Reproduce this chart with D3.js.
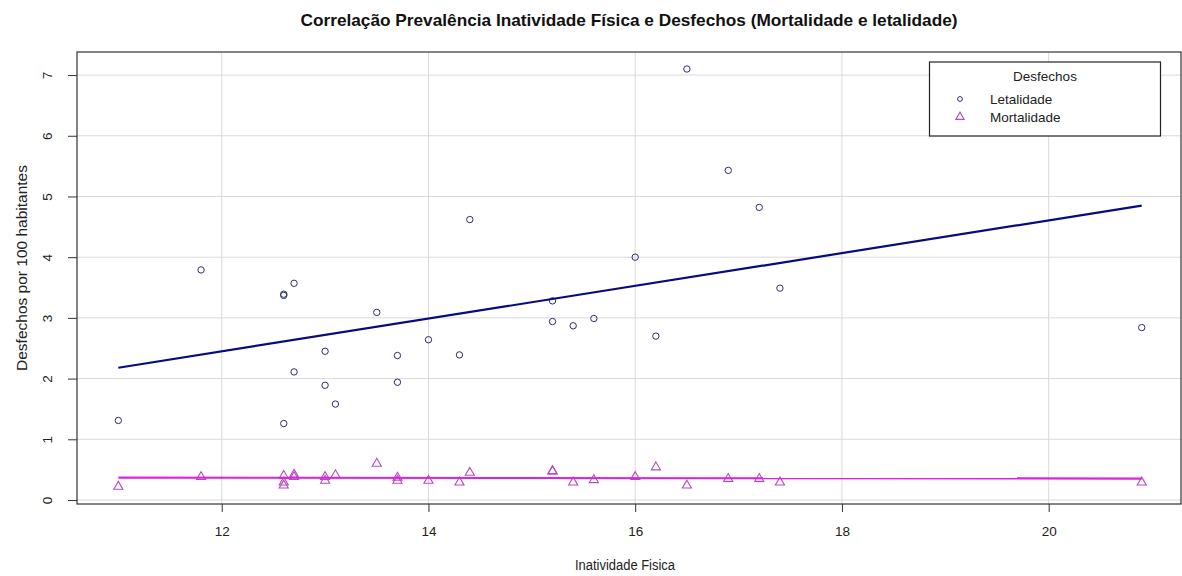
<!DOCTYPE html>
<html>
<head>
<meta charset="utf-8">
<script src="https://cdn.jsdelivr.net/npm/d3@7"></script>
<style>
  html, body { margin: 0; padding: 0; background: #ffffff; }
  svg { display: block; }
</style>
</head>
<body>
<svg id="chart" width="1182" height="576"></svg>
<script>
// Prevalência de inatividade física (%) por unidade federativa
const inatividade = [11.0, 11.8, 12.6, 12.6, 12.6, 12.7, 12.7, 13.0, 13.0, 13.1, 13.5, 13.7, 13.7,
                     14.0, 14.3, 14.4, 15.2, 15.2, 15.4, 15.6, 16.0, 16.2, 16.5, 16.9, 17.2, 17.4, 20.9];
// Desfechos por 100 habitantes
const letalidade = [1.31, 3.79, 3.37, 3.39, 1.26, 3.57, 2.11, 2.45, 1.89, 1.58, 3.09, 2.38, 1.94,
                    2.64, 2.39, 4.62, 3.28, 2.94, 2.87, 2.99, 4.00, 2.70, 7.10, 5.43, 4.82, 3.49, 2.84];
const mortalidade = [0.22, 0.38, 0.40, 0.29, 0.24, 0.42, 0.38, 0.38, 0.32, 0.41, 0.60, 0.37, 0.32,
                     0.32, 0.29, 0.45, 0.47, 0.48, 0.29, 0.33, 0.38, 0.54, 0.24, 0.35, 0.35, 0.29, 0.29];
const xTicks = [12, 14, 16, 18, 20];
const yTicks = [0, 1, 2, 3, 4, 5, 6, 7];
const legendLabels = ["Letalidade", "Mortalidade"];

const svg = d3.select("#chart");
const L = 77, R = 1181, T = 52, B = 504;

const x = d3.scaleLinear().domain([10.6, 21.28]).range([L, R]);
const y = d3.scaleLinear().domain([-0.066, 7.38]).range([B, T]);

const sans = "'Liberation Sans', Arial, sans-serif";

// grid
const grid = svg.append("g");
grid.selectAll("line.gx").data(xTicks).join("line")
  .attr("x1", d => x(d)).attr("x2", d => x(d)).attr("y1", T).attr("y2", B)
  .attr("stroke", "#d9d9d9").attr("stroke-width", 1);
grid.selectAll("line.gy").data(yTicks).join("line")
  .attr("x1", L).attr("x2", R).attr("y1", d => y(d)).attr("y2", d => y(d))
  .attr("stroke", "#d9d9d9").attr("stroke-width", 1);

// axes
const xAxis = svg.append("g").attr("transform", `translate(0,${B})`)
  .call(d3.axisBottom(x).tickValues(xTicks).tickSize(8).tickPadding(14).tickSizeOuter(0));
xAxis.select(".domain").remove();
xAxis.selectAll("line").attr("stroke", "#333");
xAxis.selectAll("text").attr("font-family", sans).attr("font-size", 13.5).attr("fill", "#222");

const yAxis = svg.append("g").attr("transform", `translate(${L},0)`)
  .call(d3.axisLeft(y).tickValues(yTicks).tickSize(9).tickSizeOuter(0));
yAxis.select(".domain").remove();
yAxis.selectAll("line").attr("stroke", "#333");
yAxis.selectAll("text")
  .attr("font-family", sans).attr("font-size", 13.5).attr("fill", "#222")
  .attr("x", null).attr("y", null).attr("dy", null)
  .attr("text-anchor", "middle")
  .attr("transform", "translate(-25,0) rotate(-90)");

// plot box
svg.append("rect").attr("x", L).attr("y", T).attr("width", R - L).attr("height", B - T)
  .attr("fill", "none").attr("stroke", "#333").attr("stroke-width", 1.2);

// least squares fit
function fit(xs, ys) {
  const mx = d3.mean(xs), my = d3.mean(ys);
  let sxy = 0, sxx = 0;
  xs.forEach((v, i) => { sxy += (v - mx) * (ys[i] - my); sxx += (v - mx) * (v - mx); });
  const b = sxy / sxx;
  return v => my + b * (v - mx);
}
const xr = d3.extent(inatividade);
const line = d3.line().x(d => x(d[0])).y(d => y(d[1]));

const fL = fit(inatividade, letalidade);
const fM = fit(inatividade, mortalidade);

// points: letalidade (circles)
svg.append("g").selectAll("circle").data(inatividade).join("circle")
  .attr("cx", d => x(d)).attr("cy", (d, i) => y(letalidade[i])).attr("r", 3.2)
  .attr("fill", "none").attr("stroke", "#2e2e6e").attr("stroke-width", 1);

// points: mortalidade (triangles)
const tri = d3.symbol().type(d3.symbolTriangle).size(36);
svg.append("g").selectAll("path").data(inatividade).join("path")
  .attr("d", tri)
  .attr("transform", (d, i) => `translate(${x(d)},${y(mortalidade[i])})`)
  .attr("fill", "none").attr("stroke", "#b24cc0").attr("stroke-width", 1.1);

// fitted lines
svg.append("path").datum(xr.map(v => [v, fL(v)])).attr("d", line)
  .attr("fill", "none").attr("stroke", "#0a0a80").attr("stroke-width", 2.2);
svg.append("path").datum(xr.map(v => [v, fM(v)])).attr("d", line)
  .attr("fill", "none").attr("stroke", "#e020e0").attr("stroke-width", 2.2);

// title
svg.append("text").attr("x", 629).attr("y", 26).attr("text-anchor", "middle")
  .attr("font-family", sans).attr("font-weight", "bold").attr("font-size", 17)
  .attr("textLength", 657).attr("lengthAdjust", "spacingAndGlyphs")
  .attr("fill", "#111")
  .text("Correlação Prevalência Inatividade Física e Desfechos (Mortalidade e letalidade)");

// axis titles
svg.append("text").attr("x", 625).attr("y", 570).attr("text-anchor", "middle")
  .attr("font-family", sans).attr("font-size", 14).attr("fill", "#222")
  .attr("textLength", 100).attr("lengthAdjust", "spacingAndGlyphs")
  .text("Inatividade Fisica");
svg.append("text").attr("transform", "translate(27,268) rotate(-90)").attr("text-anchor", "middle")
  .attr("font-family", sans).attr("font-size", 15.5).attr("fill", "#222")
  .text("Desfechos por 100 habitantes");

// legend
const lg = svg.append("g");
lg.append("rect").attr("x", 929.5).attr("y", 62).attr("width", 231).attr("height", 74)
  .attr("fill", "#fff").attr("stroke", "#222").attr("stroke-width", 1.2);
lg.append("text").attr("x", 1045).attr("y", 81).attr("text-anchor", "middle")
  .attr("font-family", sans).attr("font-size", 13.5).attr("fill", "#222").text("Desfechos");
lg.append("circle").attr("cx", 960).attr("cy", 99).attr("r", 2.4)
  .attr("fill", "none").attr("stroke", "#2e2e6e").attr("stroke-width", 1);
lg.append("path").attr("d", d3.symbol().type(d3.symbolTriangle).size(30))
  .attr("transform", "translate(960,117)")
  .attr("fill", "none").attr("stroke", "#b24cc0").attr("stroke-width", 1.1);
lg.selectAll("text.item").data(legendLabels).join("text")
  .attr("class", "item")
  .attr("x", 990).attr("y", (d, i) => 104 + i * 17.5)
  .attr("font-family", sans).attr("font-size", 13.5).attr("fill", "#222")
  .text(d => d);
</script>
</body>
</html>
